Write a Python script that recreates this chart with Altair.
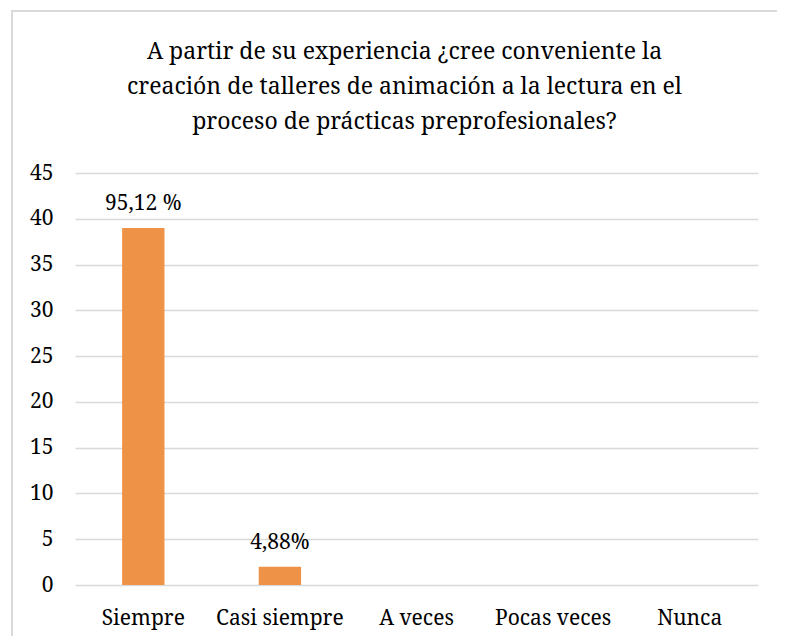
import altair as alt
import pandas as pd

categories = ["Siempre", "Casi siempre", "A veces", "Pocas veces", "Nunca"]
values = [39, 2, 0, 0, 0]
labels = ["95,12 %", "4,88%", "", "", ""]
title_lines = [
    "A partir de su experiencia ¿cree conveniente la",
    "creación de talleres de animación a la lectura en el",
    "proceso de prácticas preprofesionales?",
]

df = pd.DataFrame({"cat": categories, "val": values, "lab": labels})
FONT = "Noto Serif, DejaVu Serif"
BAR = "#EE9248"

x = alt.X("cat:N", sort=categories, title=None,
          scale=alt.Scale(paddingInner=0, paddingOuter=0),
          axis=alt.Axis(labelAngle=0, ticks=False, domain=False, labelPadding=22,
                        labelFont=FONT, labelFontSize=21, labelColor="#000000"))
y = alt.Y("val:Q", title=None,
          scale=alt.Scale(domain=[0, 45], nice=False),
          axis=alt.Axis(values=list(range(0, 50, 5)), ticks=False, domain=False,
                        gridColor="#d9d9d9", gridWidth=1.5, labelPadding=22,
                        labelFont=FONT, labelFontSize=21, labelColor="#000000"))

base = alt.Chart(df)
bars = base.mark_bar(color=BAR, width=alt.RelativeBandSize(0.31)).encode(x=x, y=y)
text = base.mark_text(font=FONT, fontSize=21, color="#000000", dy=-14, baseline="bottom").encode(
    x=alt.X("cat:N", sort=categories), y="val:Q", text="lab:N")
frame = base.mark_rect(fill=None, stroke="#d9d9d9", strokeWidth=1.5, clip=False).encode(
    x=alt.value(-63), x2=alt.value(740), y=alt.value(-162), y2=alt.value(500))

chart = alt.layer(frame, bars, text).properties(
    width=683, height=412,
    autosize=alt.AutoSizeParams(type="none"),
    padding={"left": 67, "top": 165, "right": 19, "bottom": 51},
    title=alt.TitleParams(title_lines, font=FONT, fontSize=23, fontWeight="normal",
                          color="#000000", anchor="middle", lineHeight=35, offset=-124, dx=-12),
).configure_view(stroke=None)

chart.save("out.html", embed_options={"renderer": "svg", "actions": False})
